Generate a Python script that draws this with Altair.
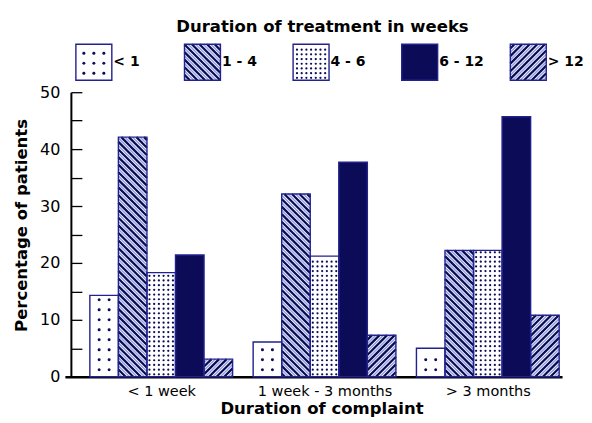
import altair as alt
import numpy as np
import pandas as pd

# ---- data ------------------------------------------------------------------
complaint = ["< 1 week", "1 week - 3 months", "> 3 months"]
treatment = ["< 1", "1 - 4", "4 - 6", "6 - 12", "> 12"]
pct_under_1_week = [14.3, 42.1, 18.3, 21.4, 3.1]
pct_1_week_3_months = [6.1, 32.1, 21.2, 37.7, 7.3]
pct_over_3_months = [5.0, 22.2, 22.2, 45.7, 10.8]
y_ticks = list(range(0, 51, 5))

series_by_group = [pct_under_1_week, pct_1_week_3_months, pct_over_3_months]
pattern_of = ["sparse", "back", "dense", "solid", "fwd"]

# ---- style -------------------------------------------------------------------
FONT = "DejaVu Sans"
NAVY = "#0b0b58"
EDGE = "#22228f"
LIGHT = "#8fa0e4"

W, H = 498, 285
X0, X1 = -0.874, 16.54          # bar-width units
STEP = 5.72                      # group step in bar widths
KX = W / (X1 - X0)
KY = H / 50.0

LW, LH = 500, 44                 # legend panel (pixel units)


def build_patterns(rects):
    """rects: (pattern, u0, u1, v0, v1) in pixels, v measured upwards."""
    dark, light, sparse, dense = [], [], [], []
    for pat, u0, u1, v0, v1 in rects:
        if pat in ("back", "fwd"):
            P = 7.6
            for off, out in ((0.0, dark), (P / 2, light)):
                if pat == "back":
                    lo, hi = u0 + v0, u1 + v1
                else:
                    lo, hi = v0 - u1, v1 - u0
                c = np.ceil((lo - off) / P) * P + off
                while c < hi:
                    if pat == "back":
                        ua, ub = max(u0, c - v1), min(u1, c - v0)
                        va, vb = c - ua, c - ub
                    else:
                        ua, ub = max(u0, v0 - c), min(u1, v1 - c)
                        va, vb = ua + c, ub + c
                    if ub - ua > 0.4:
                        out.append((ua, va, ub, vb))
                    c += P
        elif pat in ("sparse", "dense"):
            if pat == "sparse":
                s, m, first, top = 10.0, 6.0, 7.0, 4.0
                out = sparse
            else:
                s, m, first, top = 4.7, 2.0, 2.4, 1.5
                out = dense
            n = int((u1 - u0 - 2 * m) // s) + 1
            us = u0 + (u1 - u0 - (n - 1) * s) / 2 + s * np.arange(n)
            v = v0 + first
            while v <= v1 - top:
                for u in us:
                    out.append((u, v))
                v += s
    return dark, light, sparse, dense


def make_layers(rect_df, rects, to_data, xs, ys, xaxis, yaxis):
    dark, light, sparse, dense = build_patterns(rects)

    def lines_df(lines):
        rows = []
        for ua, va, ub, vb in lines:
            xa, ya = to_data(ua, va)
            xb, yb = to_data(ub, vb)
            rows.append(dict(x=xa, y=ya, x2=xb, y2=yb))
        return pd.DataFrame(rows, columns=["x", "y", "x2", "y2"])

    def dots_df(dots):
        rows = []
        for u, v in dots:
            x, y = to_data(u, v)
            rows.append(dict(x=x, y=y))
        return pd.DataFrame(rows, columns=["x", "y"])

    X = alt.X("x:Q", scale=xs, axis=xaxis)
    Y = alt.Y("y:Q", scale=ys, axis=yaxis)

    fills = alt.Fill(
        "pattern:N",
        scale=alt.Scale(domain=pattern_of,
                        range=["white", "white", "white", NAVY, "white"]),
        legend=None,
    )
    base = alt.Chart(rect_df).mark_rect().encode(
        x=X, x2="x2:Q", y=Y, y2="y2:Q", fill=fills)
    layers = [base]
    if dark:
        layers.append(alt.Chart(lines_df(light)).mark_rule(
            color=LIGHT, strokeWidth=1.5).encode(x=X, x2="x2:Q", y=Y, y2="y2:Q"))
        layers.append(alt.Chart(lines_df(dark)).mark_rule(
            color=NAVY, strokeWidth=2.3).encode(x=X, x2="x2:Q", y=Y, y2="y2:Q"))
    if sparse:
        layers.append(alt.Chart(dots_df(sparse)).mark_circle(
            size=9, color=NAVY, opacity=1).encode(x=X, y=Y))
    if dense:
        layers.append(alt.Chart(dots_df(dense)).mark_circle(
            size=5, color=NAVY, opacity=1).encode(x=X, y=Y))
    layers.append(alt.Chart(rect_df).mark_rect(
        fillOpacity=0, stroke=EDGE, strokeWidth=1.4).encode(
        x=X, x2="x2:Q", y=Y, y2="y2:Q"))
    return layers


# ---- main panel ---------------------------------------------------------------
rows, rects = [], []
for g, vals in enumerate(series_by_group):
    for s, val in enumerate(vals):
        left = g * STEP + s
        rows.append(dict(x=left, x2=left + 1, y=val, y2=0.0,
                         pattern=pattern_of[s], complaint=complaint[g],
                         treatment=treatment[s]))
        rects.append((pattern_of[s], (left - X0) * KX, (left + 1 - X0) * KX,
                      0.0, val * KY))
main_df = pd.DataFrame(rows)

centers = [g * STEP + 2.5 for g in range(len(complaint))]
label_js = "[" + ",".join("'" + c + "'" for c in complaint) + "]"

xaxis = alt.Axis(
    values=centers,
    labelExpr=f"{label_js}[round((datum.value - {centers[0]}) / {STEP})]",
    ticks=False, grid=False, domainColor="black", domainWidth=2.5,
    labelFont=FONT, labelFontSize=14.5, labelColor="black", labelPadding=8,
    labelFlush=False, labelOverlap=False,
    title="Duration of complaint", titleFont=FONT, titleFontSize=16.5,
    titleFontWeight="bold", titleColor="black", titlePadding=2, titleX=257,
)
yaxis = alt.Axis(
    values=y_ticks, labelExpr="datum.value % 10 == 0 ? datum.label : ''",
    labelOverlap=False, labelFont=FONT, labelFontSize=16, labelColor="black",
    labelPadding=22, tickSize={"expr": "-11"}, tickColor="black", tickWidth=1.3,
    domainColor="black", domainWidth=2, grid=False, offset=-6,
    title="Percentage of patients", titleFont=FONT, titleFontSize=16.5,
    titleFontWeight="bold", titleColor="black", titleX=-44, titleY=133,
    titleAngle=270, titleAlign="center", titleBaseline="alphabetic",
)

main_layers = make_layers(
    main_df, rects, lambda u, v: (X0 + u / KX, v / KY),
    alt.Scale(domain=[X0, X1], nice=False, zero=False),
    alt.Scale(domain=[0, 50], nice=False),
    xaxis, yaxis,
)
main = alt.layer(*main_layers).properties(width=W, height=H)

# ---- legend panel -------------------------------------------------------------
lrows, lrects, ltext = [], [], []
for i, name in enumerate(treatment):
    u0 = 11 + i * 108.8
    lrows.append(dict(x=u0, x2=u0 + 36, y=40.0, y2=4.0, pattern=pattern_of[i]))
    lrects.append((pattern_of[i], u0, u0 + 36, 4.0, 40.0))
    ltext.append(dict(x=u0 + 37.5, y=22.0, label=name))
leg_df = pd.DataFrame(lrows)
lxs = alt.Scale(domain=[0, LW], nice=False, zero=False)
lys = alt.Scale(domain=[0, LH], nice=False, zero=False)
leg_layers = make_layers(leg_df, lrects, lambda u, v: (u, v), lxs, lys, None, None)
leg_layers.append(
    alt.Chart(pd.DataFrame(ltext)).mark_text(
        align="left", baseline="middle", font=FONT, fontSize=14,
        fontWeight="bold", color="black").encode(
        x=alt.X("x:Q", scale=lxs, axis=None),
        y=alt.Y("y:Q", scale=lys, axis=None), text="label:N"))
legend = alt.layer(*leg_layers).properties(
    width=LW, height=LH,
    title=alt.TitleParams("Duration of treatment in weeks", font=FONT,
                          fontSize=16.5, fontWeight="bold", color="black",
                          anchor="middle", dx=8, offset=5),
)

chart = alt.vconcat(legend, main, spacing=0).properties(
    padding={"left": 5, "top": 10, "right": 0, "bottom": 0}
).configure_view(stroke=None)

chart.save("out.html", embed_options={"renderer": "svg", "actions": False})
